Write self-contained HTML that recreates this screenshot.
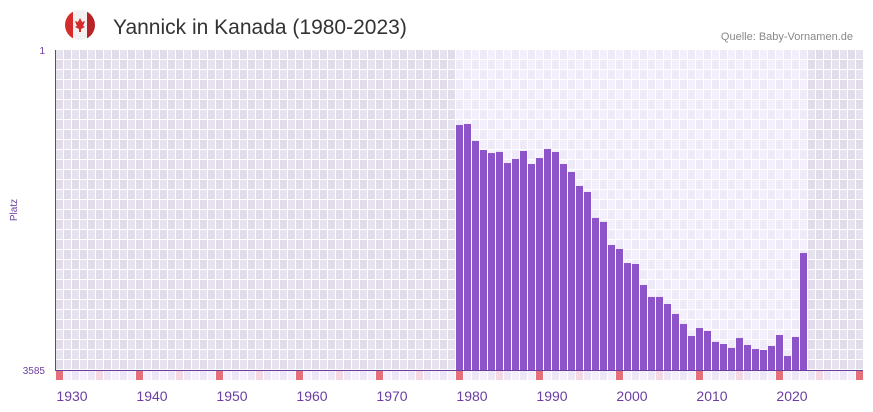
<!DOCTYPE html>
<html><head><meta charset="utf-8"><style>
body{margin:0;background:#fff;font-family:"Liberation Sans",sans-serif;}
svg{display:block}
</style></head><body>
<svg width="873" height="412" viewBox="0 0 873 412">
<g>
<clipPath id="fc"><circle cx="80" cy="25" r="15"/></clipPath>
<g clip-path="url(#fc)"><rect x="65" y="10" width="30" height="30" fill="#f2f0f0"/><rect x="65" y="10" width="8" height="30" fill="#d52b2b"/><rect x="87" y="10" width="8" height="30" fill="#b8232a"/></g>
<path d="M80 18 L82 22 L85 21 L83 26 L85 27 L81 29 L81 32 L79 32 L79 29 L75 27 L77 26 L75 21 L78 22 Z" fill="#d52b2b"/>
</g>
<text x="113" y="34" font-size="21" fill="#333">Yannick in Kanada (1980-2023)</text>
<text x="853" y="40" font-size="11" fill="#888" text-anchor="end">Quelle: Baby-Vornamen.de</text>
<text x="45" y="54" font-size="10" fill="#6b3fa0" text-anchor="end">1</text>
<text x="45" y="374" font-size="10" fill="#6b3fa0" text-anchor="end">3585</text>
<text transform="translate(17,210) rotate(-90)" font-size="10" fill="#6b3fa0" text-anchor="middle">Platz</text>
<g id="bg"></g><g id="bars"></g><g id="strip"></g><g id="xl"></g>
<line x1="55.5" y1="50" x2="55.5" y2="370" stroke="#6b3fa0" stroke-width="1"/>
<line x1="55" y1="370.5" x2="863" y2="370.5" stroke="#6b3fa0" stroke-width="1"/>
</svg>
<script>
const years=[];for(let y=1978;y<=2021;y++)years.push(y);
const ranks=[841,830,1020,1121,1155,1143,1267,1222,1132,1278,1211,1110,1143,1278,1367,1524,1591,1882,1927,2185,2230,2387,2398,2633,2767,2767,2846,2958,3070,3204,3115,3148,3271,3294,3338,3227,3305,3350,3361,3316,3193,3428,3215,2275];
const xTicks=[1930,1940,1950,1960,1970,1980,1990,2000,2010,2020];
const maxRank=3585;
const NS="http://www.w3.org/2000/svg";
const X0=55,CW=8,FIRST=1928,LAST=2028,TOPY=50,BOTY=370;
const xs=y=>X0+(y-FIRST)*CW;
const ys=r=>TOPY+(r-1)/(maxRank-1)*(BOTY-TOPY);
function mk(t,a,p){const e=document.createElementNS(NS,t);for(const k in a)e.setAttribute(k,a[k]);p.appendChild(e);return e;}
const bg=document.getElementById('bg');
mk('rect',{x:X0,y:TOPY,width:(LAST-FIRST+1)*CW,height:BOTY-TOPY+10,fill:'#fff'},bg);
const aMin=years[0],aMax=years[years.length-1];
for(let y=FIRST;y<=LAST;y++){
  const act=y>=aMin&&y<=aMax;
  for(let r=0;r<32;r++){
    const c=act?((y+r)%2?'#efeaf8':'#f3effb'):((y+r)%2?'#e2dcea':'#e6e2ee');
    const e=mk('rect',{x:xs(y)+1,y:TOPY+r*10,width:7,height:9,fill:c},bg);
    
    
  }
}
const bars=document.getElementById('bars');
years.forEach((y,i)=>{
  const t=ys(ranks[i]);
  const e=mk('rect',{x:xs(y)+1,y:t,width:7,height:BOTY-t,fill:'#8c54c8'},bars);
  
  
});
const strip=document.getElementById('strip');
for(let y=FIRST;y<=LAST;y++){
  let c=(y%2)?'#f3effb':'#ece6f6';
  if(y%10===8)c='#e5707a';else if(y%10===3)c='#f4d8e2';
  const e=mk('rect',{x:xs(y)+1,y:371,width:7,height:9,fill:c},strip);
  
  
}
const xl=document.getElementById('xl');
xTicks.forEach(t=>{
  const e=mk('text',{x:xs(t)+1,y:401,'font-size':14,fill:'#6b3fa0','text-anchor':'middle'},xl);
  e.textContent=t;
  
  
});
</script>
</body></html>
